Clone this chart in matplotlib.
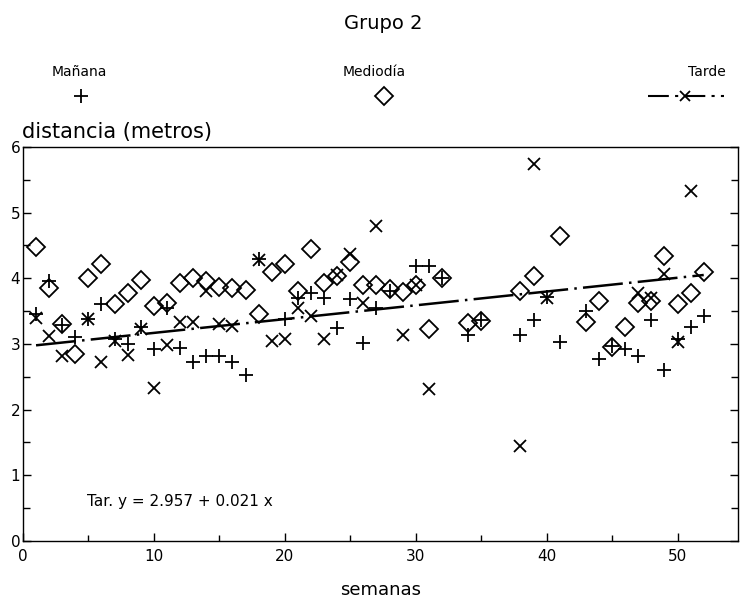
import matplotlib
matplotlib.use("Agg")
import matplotlib.pyplot as plt
from matplotlib.lines import Line2D
import numpy as np

# ---- data ----
manana_x = [1, 2, 3, 4, 5, 6, 7, 8, 9, 10, 11, 12, 13, 14, 15, 16, 17, 18, 20, 21, 22, 23, 24, 25,
            26, 27, 28, 30, 31, 32, 34, 35, 38, 39, 40, 41, 43, 44, 45, 46, 47, 48, 49, 50, 51, 52]
manana_y = [3.45, 3.95, 3.28, 3.10, 3.38, 3.60, 3.08, 3.00, 3.25, 2.92, 3.55, 2.93, 2.72, 2.82, 2.82,
            2.72, 2.53, 4.30, 3.38, 3.70, 3.78, 3.70, 3.24, 3.69, 3.02, 3.55, 3.80, 4.18, 4.18, 4.00,
            3.14, 3.37, 3.14, 3.37, 3.72, 3.03, 3.50, 2.77, 2.97, 2.92, 2.82, 3.37, 2.60, 3.07, 3.26, 3.43]

mediodia_x = [1, 2, 3, 4, 5, 6, 7, 8, 9, 10, 11, 12, 13, 14, 15, 16, 17, 18, 19, 20, 21, 22, 23, 24,
              25, 26, 27, 28, 29, 30, 31, 32, 34, 35, 38, 39, 41, 43, 44, 45, 46, 47, 48, 49, 50, 51, 52]
mediodia_y = [4.47, 3.85, 3.30, 2.85, 4.00, 4.21, 3.60, 3.78, 3.98, 3.58, 3.62, 3.92, 4.00, 3.96, 3.86,
              3.85, 3.82, 3.45, 4.10, 4.22, 3.80, 4.45, 3.93, 4.03, 4.24, 3.89, 3.89, 3.84, 3.79, 3.89,
              3.22, 4.00, 3.32, 3.35, 3.80, 4.04, 4.65, 3.33, 3.66, 2.95, 3.25, 3.62, 3.65, 4.34, 3.60,
              3.77, 4.09]

tarde_x = [1, 2, 3, 5, 6, 7, 8, 9, 10, 11, 12, 13, 14, 15, 16, 18, 19, 20, 21, 22, 23, 24, 25, 26,
           27, 29, 30, 31, 38, 39, 40, 47, 48, 49, 50, 51]
tarde_y = [3.40, 3.12, 2.82, 3.38, 2.72, 3.05, 2.83, 3.22, 2.33, 2.99, 3.34, 3.33, 3.80, 3.30, 3.27,
           4.27, 3.05, 3.08, 3.55, 3.42, 3.07, 4.05, 4.37, 3.62, 4.79, 3.14, 3.90, 2.32, 1.45, 5.74,
           3.70, 3.78, 3.70, 4.07, 3.03, 5.33]

fit_intercept = 2.957
fit_slope = 0.021
fit_range = [1, 52]

x_ticks = [0, 10, 20, 30, 40, 50]
y_ticks = [0, 1, 2, 3, 4, 5, 6]

plt.rcParams['font.family'] = ['DejaVu Sans']

fig = plt.figure(figsize=(7.40, 6.07), dpi=100)
ax = fig.add_axes([0.031, 0.109, 0.966, 0.649])

ms_plus = 10
ms_d = 8.8
ms_x = 8
mew = 1.3

ax.plot(manana_x, manana_y, linestyle='none', marker='+', color='black', markersize=ms_plus, markeredgewidth=mew)
ax.plot(mediodia_x, mediodia_y, linestyle='none', marker='D', color='black', markerfacecolor='none',
        markersize=ms_d, markeredgewidth=mew)
ax.plot(tarde_x, tarde_y, linestyle='none', marker='x', color='black', markersize=ms_x, markeredgewidth=mew)

fx = np.array(fit_range, dtype=float)
ax.plot(fx, fit_intercept + fit_slope * fx, color='black', linewidth=1.8,
        linestyle=(0, (16, 2.5, 1, 2.5)))

ax.set_xlim(0, 54.6)
ax.set_ylim(0, 6)
ax.set_xticks(x_ticks)
ax.set_xticks([5, 15, 25, 35, 45], minor=True)
ax.set_yticks(y_ticks)
ax.set_yticks([0.5, 1.5, 2.5, 3.5, 4.5, 5.5], minor=True)
ax.tick_params(axis='both', which='both', direction='in', colors='black', labelsize=11)
ax.tick_params(axis='y', which='both', right=True, left=True)
ax.tick_params(axis='y', which='major', length=6, width=1, pad=2)
ax.tick_params(axis='y', which='minor', length=5, width=1)
ax.tick_params(axis='x', which='major', length=6, width=1, pad=6)
ax.tick_params(axis='x', which='minor', length=4, width=1)
for s in ax.spines.values():
    s.set_linewidth(1.0)

ax.set_xlabel('semanas', fontsize=13, labelpad=12)

ax.text(4.9, 0.6, 'Tar. y = 2.957 + 0.021 x', fontsize=11, ha='left', va='center')

# titles and legend-like header
fig.text(0.518, 0.962, 'Grupo 2', fontsize=14, ha='center', va='center')
fig.text(0.03, 0.782, 'distancia (metros)', fontsize=15, ha='left', va='center')

fig.text(0.107, 0.882, 'Mañana', fontsize=10, ha='center', va='center')
fig.text(0.505, 0.882, 'Mediodía', fontsize=10, ha='center', va='center')
fig.text(0.955, 0.882, 'Tarde', fontsize=10, ha='center', va='center')

leg_y = 0.842
fig.add_artist(Line2D([0.109], [leg_y], marker='+', color='black', markersize=ms_plus,
                      markeredgewidth=mew, linestyle='none', transform=fig.transFigure))
fig.add_artist(Line2D([0.519], [leg_y], marker='D', color='black', markerfacecolor='none',
                      markersize=ms_d, markeredgewidth=mew, linestyle='none', transform=fig.transFigure))
fig.add_artist(Line2D([0.876, 0.978], [leg_y, leg_y], color='black', linewidth=1.5,
                      linestyle=(0, (10, 3, 1.5, 3)), transform=fig.transFigure))
fig.add_artist(Line2D([0.926], [leg_y], marker='x', color='black', markersize=7,
                      markeredgewidth=mew, linestyle='none', transform=fig.transFigure))

fig.savefig('out.png', dpi=100)
